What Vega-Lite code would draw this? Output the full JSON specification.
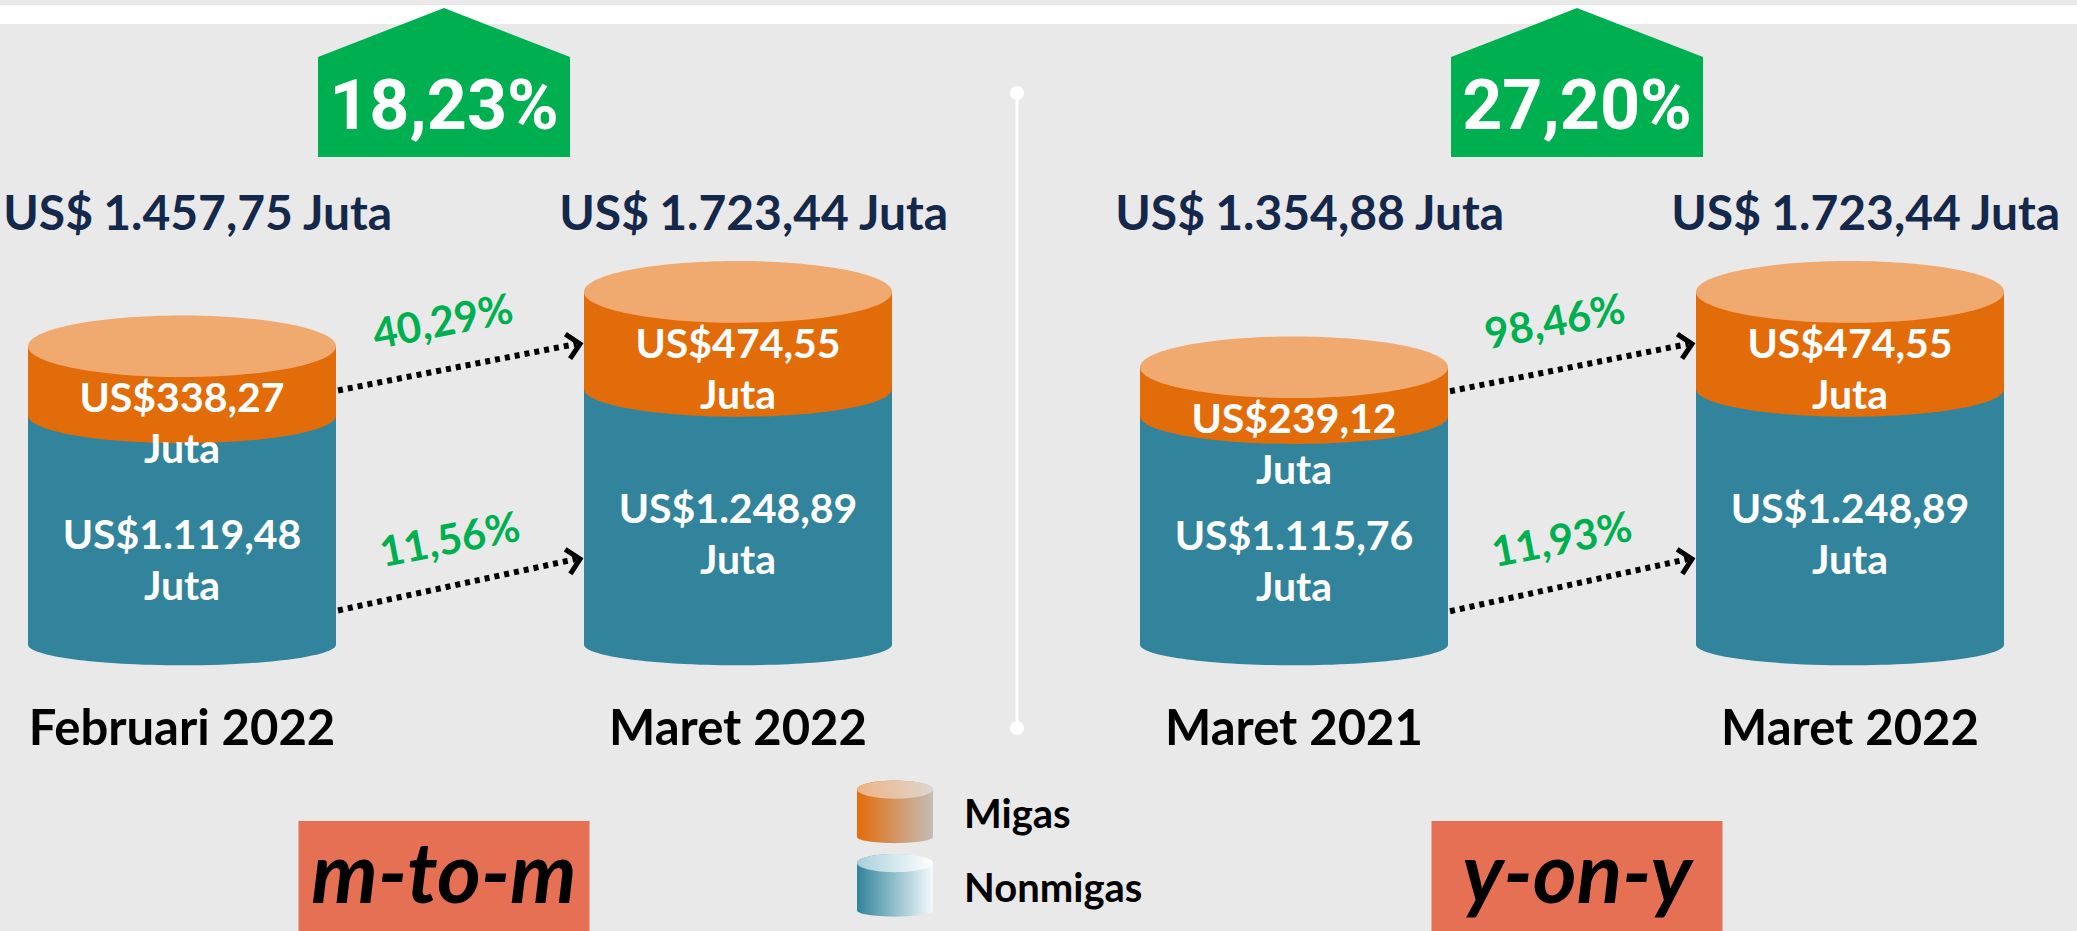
{
  "$schema": "https://vega.github.io/schema/vega-lite/v6.json",
  "width": 2077,
  "height": 931,
  "autosize": {"type": "fit", "contains": "padding"},
  "padding": 0,
  "background": "#e9e9e9",
  "config": {
    "view": {"stroke": null},
    "locale": {"number": {"decimal": ",", "thousands": ".", "grouping": [3], "currency": ["US$", ""]}}
  },
  "datasets": {
    "periode": [
      {"perbandingan": "m-to-m", "kolom": "m-to-m: Februari 2022", "periode": "Februari 2022", "migas": 338.27, "nonmigas": 1119.48, "total": 1457.75},
      {"perbandingan": "m-to-m", "kolom": "m-to-m: Maret 2022", "periode": "Maret 2022", "migas": 474.55, "nonmigas": 1248.89, "total": 1723.44},
      {"perbandingan": "y-on-y", "kolom": "y-on-y: Maret 2021", "periode": "Maret 2021", "migas": 239.12, "nonmigas": 1115.76, "total": 1354.88},
      {"perbandingan": "y-on-y", "kolom": "y-on-y: Maret 2022", "periode": "Maret 2022", "migas": 474.55, "nonmigas": 1248.89, "total": 1723.44}
    ],
    "pertumbuhan": [
      {"kategori": "Migas", "dari": "m-to-m: Februari 2022", "ke": "m-to-m: Maret 2022", "pertumbuhan": 0.4029},
      {"kategori": "Nonmigas", "dari": "m-to-m: Februari 2022", "ke": "m-to-m: Maret 2022", "pertumbuhan": 0.1156},
      {"kategori": "Migas", "dari": "y-on-y: Maret 2021", "ke": "y-on-y: Maret 2022", "pertumbuhan": 0.9846},
      {"kategori": "Nonmigas", "dari": "y-on-y: Maret 2021", "ke": "y-on-y: Maret 2022", "pertumbuhan": 0.1193}
    ],
    "ringkasan": [
      {"perbandingan": "m-to-m", "pertumbuhan": 0.1823},
      {"perbandingan": "y-on-y", "pertumbuhan": 0.2720}
    ],
    "legenda": [{"kategori": "Migas"}, {"kategori": "Nonmigas"}],
    "dekorasi": [{"hiasan": "garis"}]
  },
  "resolve": {"scale": {"x": "independent", "y": "independent"}},
  "layer": [
    {
      "data": {"name": "dekorasi"},
      "mark": {"type": "rect", "color": "#ffffff"},
      "encoding": {
        "y": {"datum": 3125.6, "type": "quantitative", "scale": {"domain": [-1400, 3150], "nice": false, "zero": false}, "axis": null},
        "y2": {"datum": 3032.7}
      }
    },
    {
      "data": {"name": "dekorasi"},
      "layer": [
        {
          "mark": {"type": "rule", "color": "#ffffff", "strokeWidth": 3, "xOffset": -21.5},
          "encoding": {
            "y": {"datum": 2695.4, "type": "quantitative", "scale": {"domain": [-1400, 3150], "nice": false, "zero": false}, "axis": null},
            "y2": {"datum": -407.9}
          }
        },
        {
          "mark": {"type": "point", "filled": true, "color": "#ffffff", "opacity": 1, "size": 200, "xOffset": -21.5},
          "encoding": {"y": {"datum": 2695.4, "type": "quantitative", "scale": {"domain": [-1400, 3150], "nice": false, "zero": false}, "axis": null}}
        },
        {
          "mark": {"type": "point", "filled": true, "color": "#ffffff", "opacity": 1, "size": 200, "xOffset": -21.5},
          "encoding": {"y": {"datum": -407.9, "type": "quantitative", "scale": {"domain": [-1400, 3150], "nice": false, "zero": false}, "axis": null}}
        }
      ]
    },
    {
      "data": {"name": "ringkasan"},
      "encoding": {"x": {"field": "perbandingan", "type": "nominal", "scale": {"type": "point", "domain": ["m-to-m", "y-on-y"], "range": [444, 1577], "padding": 0}, "axis": null}},
      "layer": [
        {
          "mark": {"type": "point", "shape": "M 0 -0.591 L 1 -0.202 L 1 0.591 L -1 0.591 L -1 -0.202 Z", "size": 63504, "filled": true, "color": "#00b050", "opacity": 1, "strokeWidth": 0},
          "encoding": {"y": {"datum": 2746.6, "type": "quantitative", "scale": {"domain": [-1400, 3150], "nice": false, "zero": false}, "axis": null}}
        },
        {
          "mark": {"type": "text", "font": "Roboto", "fontWeight": "bold", "fontSize": 70, "color": "#ffffff", "align": "center", "baseline": "alphabetic"},
          "encoding": {
            "y": {"datum": 2520, "type": "quantitative", "scale": {"domain": [-1400, 3150], "nice": false, "zero": false}, "axis": null},
            "text": {"field": "pertumbuhan", "type": "quantitative", "format": ".2%"}
          }
        },
        {
          "mark": {"type": "bar", "width": 291, "color": "#e67054"},
          "encoding": {
            "y": {"datum": -862.6, "type": "quantitative", "scale": {"domain": [-1400, 3150], "nice": false, "zero": false}, "axis": null},
            "y2": {"datum": -1400}
          }
        },
        {
          "mark": {"type": "text", "font": "Lato", "fontWeight": "bold", "fontStyle": "italic", "fontSize": 84, "color": "#000000", "align": "center", "baseline": "alphabetic"},
          "encoding": {
            "y": {"datum": -1263.1, "type": "quantitative", "scale": {"domain": [-1400, 3150], "nice": false, "zero": false}, "axis": null},
            "text": {"field": "perbandingan", "type": "nominal"}
          }
        }
      ]
    },
    {
      "data": {"name": "periode"},
      "encoding": {"x": {"field": "kolom", "type": "nominal", "scale": {"type": "point", "domain": ["m-to-m: Februari 2022", "m-to-m: Maret 2022", "y-on-y: Maret 2021", "y-on-y: Maret 2022"], "range": [182, 1850], "padding": 0}, "axis": null}},
      "layer": [
        {
          "mark": {"type": "bar", "width": 308, "color": "#31849b"},
          "encoding": {
            "y": {"field": "nonmigas", "type": "quantitative", "scale": {"domain": [-1400, 3150], "nice": false, "zero": false}, "axis": null},
            "y2": {"datum": 0}
          }
        },
        {
          "mark": {"type": "point", "shape": "M -1 0 A 1 0.135 0 1 1 1 0 A 1 0.135 0 1 1 -1 0 Z", "size": 94864, "filled": true, "color": "#31849b", "opacity": 1, "strokeWidth": 0},
          "encoding": {"y": {"datum": 0, "type": "quantitative", "scale": {"domain": [-1400, 3150], "nice": false, "zero": false}, "axis": null}}
        },
        {
          "mark": {"type": "bar", "width": 308, "color": "#e36c0a"},
          "encoding": {
            "y": {"field": "total", "type": "quantitative", "scale": {"domain": [-1400, 3150], "nice": false, "zero": false}, "axis": null},
            "y2": {"field": "nonmigas"}
          }
        },
        {
          "mark": {"type": "point", "shape": "M -1 0 A 1 0.18 0 1 1 1 0 A 1 0.18 0 1 1 -1 0 Z", "size": 94864, "filled": true, "color": "#e36c0a", "opacity": 1, "strokeWidth": 0},
          "encoding": {"y": {"field": "nonmigas", "type": "quantitative", "scale": {"domain": [-1400, 3150], "nice": false, "zero": false}, "axis": null}}
        },
        {
          "mark": {"type": "point", "shape": "M -1 0 A 1 0.2 0 1 1 1 0 A 1 0.2 0 1 1 -1 0 Z", "size": 94864, "filled": true, "color": "#f0a96e", "opacity": 1, "strokeWidth": 0},
          "encoding": {"y": {"field": "total", "type": "quantitative", "scale": {"domain": [-1400, 3150], "nice": false, "zero": false}, "axis": null}}
        },
        {
          "mark": {"type": "text", "font": "Lato", "fontWeight": "bold", "fontSize": 41, "color": "#ffffff", "align": "center", "baseline": "alphabetic", "dy": 66},
          "encoding": {
            "y": {"field": "total", "type": "quantitative", "scale": {"domain": [-1400, 3150], "nice": false, "zero": false}, "axis": null},
            "text": {"field": "migas", "type": "quantitative", "format": "$,.2f"}
          }
        },
        {
          "mark": {"type": "text", "text": "Juta", "font": "Lato", "fontWeight": "bold", "fontSize": 41, "color": "#ffffff", "align": "center", "baseline": "alphabetic", "dy": 117},
          "encoding": {"y": {"field": "total", "type": "quantitative", "scale": {"domain": [-1400, 3150], "nice": false, "zero": false}, "axis": null}}
        },
        {
          "mark": {"type": "text", "font": "Lato", "fontWeight": "bold", "fontSize": 41, "color": "#ffffff", "align": "center", "baseline": "alphabetic", "dy": 134},
          "encoding": {
            "y": {"field": "nonmigas", "type": "quantitative", "scale": {"domain": [-1400, 3150], "nice": false, "zero": false}, "axis": null},
            "text": {"field": "nonmigas", "type": "quantitative", "format": "$,.2f"}
          }
        },
        {
          "mark": {"type": "text", "text": "Juta", "font": "Lato", "fontWeight": "bold", "fontSize": 41, "color": "#ffffff", "align": "center", "baseline": "alphabetic", "dy": 185},
          "encoding": {"y": {"field": "nonmigas", "type": "quantitative", "scale": {"domain": [-1400, 3150], "nice": false, "zero": false}, "axis": null}}
        },
        {
          "mark": {"type": "text", "font": "Lato", "fontWeight": "bold", "fontSize": 48, "color": "#14284b", "align": "center", "baseline": "alphabetic", "dx": 16},
          "encoding": {
            "y": {"datum": 2025.9, "type": "quantitative", "scale": {"domain": [-1400, 3150], "nice": false, "zero": false}, "axis": null},
            "text": {"field": "total", "type": "quantitative", "format": ",.2f"}
          }
        },
        {
          "mark": {"type": "text", "text": "US$", "font": "Lato", "fontWeight": "bold", "fontSize": 48, "color": "#14284b", "align": "right", "baseline": "alphabetic", "dx": -89},
          "encoding": {"y": {"datum": 2025.9, "type": "quantitative", "scale": {"domain": [-1400, 3150], "nice": false, "zero": false}, "axis": null}}
        },
        {
          "mark": {"type": "text", "text": "Juta", "font": "Lato", "fontWeight": "bold", "fontSize": 48, "color": "#14284b", "align": "left", "baseline": "alphabetic", "dx": 121},
          "encoding": {"y": {"datum": 2025.9, "type": "quantitative", "scale": {"domain": [-1400, 3150], "nice": false, "zero": false}, "axis": null}}
        },
        {
          "mark": {"type": "text", "font": "Lato", "fontWeight": "bold", "fontSize": 49, "color": "#000000", "align": "center", "baseline": "alphabetic"},
          "encoding": {
            "y": {"datum": -491, "type": "quantitative", "scale": {"domain": [-1400, 3150], "nice": false, "zero": false}, "axis": null},
            "text": {"field": "periode", "type": "nominal"}
          }
        }
      ]
    },
    {
      "data": {"name": "pertumbuhan"},
      "transform": [
        {"lookup": "dari", "from": {"data": {"name": "periode"}, "key": "kolom", "fields": ["nonmigas"]}, "as": ["batas_dari"]},
        {"lookup": "ke", "from": {"data": {"name": "periode"}, "key": "kolom", "fields": ["nonmigas"]}, "as": ["batas_ke"]},
        {"filter": {"field": "kategori", "equal": "Migas"}}
      ],
      "layer": [
        {
          "mark": {"type": "rule", "color": "#000000", "strokeWidth": 6, "strokeDash": [5, 5], "xOffset": 156, "x2Offset": -162, "yOffset": -25, "y2Offset": -45},
          "encoding": {
            "x": {"field": "dari", "type": "nominal", "scale": {"type": "point", "domain": ["m-to-m: Februari 2022", "m-to-m: Maret 2022", "y-on-y: Maret 2021", "y-on-y: Maret 2022"], "range": [182, 1850], "padding": 0}, "axis": null},
            "x2": {"field": "ke"},
            "y": {"field": "batas_dari", "type": "quantitative", "scale": {"domain": [-1400, 3150], "nice": false, "zero": false}, "axis": null},
            "y2": {"field": "batas_ke"}
          }
        },
        {
          "mark": {"type": "point", "shape": "M -1 -1 L 0 0 L -1 1", "filled": false, "color": "#000000", "strokeWidth": 5, "size": 625, "angle": -11, "opacity": 1, "xOffset": -158, "yOffset": -45},
          "encoding": {
            "x": {"field": "ke", "type": "nominal", "scale": {"type": "point", "domain": ["m-to-m: Februari 2022", "m-to-m: Maret 2022", "y-on-y: Maret 2021", "y-on-y: Maret 2022"], "range": [182, 1850], "padding": 0}, "axis": null},
            "y": {"field": "batas_ke", "type": "quantitative", "scale": {"domain": [-1400, 3150], "nice": false, "zero": false}, "axis": null}
          }
        },
        {
          "mark": {"type": "text", "font": "Lato", "fontWeight": "bold", "fontSize": 42, "color": "#00b050", "angle": -11, "align": "center", "baseline": "middle", "xOffset": -295, "yOffset": -66},
          "encoding": {
            "x": {"field": "ke", "type": "nominal", "scale": {"type": "point", "domain": ["m-to-m: Februari 2022", "m-to-m: Maret 2022", "y-on-y: Maret 2021", "y-on-y: Maret 2022"], "range": [182, 1850], "padding": 0}, "axis": null},
            "y": {"field": "batas_ke", "type": "quantitative", "scale": {"domain": [-1400, 3150], "nice": false, "zero": false}, "axis": null},
            "text": {"field": "pertumbuhan", "type": "quantitative", "format": ".2%"}
          }
        }
      ]
    },
    {
      "data": {"name": "pertumbuhan"},
      "transform": [
        {"lookup": "dari", "from": {"data": {"name": "periode"}, "key": "kolom", "fields": ["nonmigas"]}, "as": ["batas_dari"]},
        {"lookup": "ke", "from": {"data": {"name": "periode"}, "key": "kolom", "fields": ["nonmigas"]}, "as": ["batas_ke"]},
        {"filter": {"field": "kategori", "equal": "Nonmigas"}}
      ],
      "layer": [
        {
          "mark": {"type": "rule", "color": "#000000", "strokeWidth": 6, "strokeDash": [5, 5], "xOffset": 156, "x2Offset": -162, "yOffset": 195, "y2Offset": 170},
          "encoding": {
            "x": {"field": "dari", "type": "nominal", "scale": {"type": "point", "domain": ["m-to-m: Februari 2022", "m-to-m: Maret 2022", "y-on-y: Maret 2021", "y-on-y: Maret 2022"], "range": [182, 1850], "padding": 0}, "axis": null},
            "x2": {"field": "ke"},
            "y": {"field": "batas_dari", "type": "quantitative", "scale": {"domain": [-1400, 3150], "nice": false, "zero": false}, "axis": null},
            "y2": {"field": "batas_ke"}
          }
        },
        {
          "mark": {"type": "point", "shape": "M -1 -1 L 0 0 L -1 1", "filled": false, "color": "#000000", "strokeWidth": 5, "size": 625, "angle": -12, "opacity": 1, "xOffset": -158, "yOffset": 170},
          "encoding": {
            "x": {"field": "ke", "type": "nominal", "scale": {"type": "point", "domain": ["m-to-m: Februari 2022", "m-to-m: Maret 2022", "y-on-y: Maret 2021", "y-on-y: Maret 2022"], "range": [182, 1850], "padding": 0}, "axis": null},
            "y": {"field": "batas_ke", "type": "quantitative", "scale": {"domain": [-1400, 3150], "nice": false, "zero": false}, "axis": null}
          }
        },
        {
          "mark": {"type": "text", "font": "Lato", "fontWeight": "bold", "fontSize": 42, "color": "#00b050", "angle": -11, "align": "center", "baseline": "middle", "xOffset": -288, "yOffset": 152},
          "encoding": {
            "x": {"field": "ke", "type": "nominal", "scale": {"type": "point", "domain": ["m-to-m: Februari 2022", "m-to-m: Maret 2022", "y-on-y: Maret 2021", "y-on-y: Maret 2022"], "range": [182, 1850], "padding": 0}, "axis": null},
            "y": {"field": "batas_ke", "type": "quantitative", "scale": {"domain": [-1400, 3150], "nice": false, "zero": false}, "axis": null},
            "text": {"field": "pertumbuhan", "type": "quantitative", "format": ".2%"}
          }
        }
      ]
    },
    {
      "data": {"name": "legenda"},
      "encoding": {"y": {"field": "kategori", "type": "nominal", "scale": {"type": "point", "domain": ["Migas", "Nonmigas"], "range": [812, 885.5], "padding": 0}, "axis": null}},
      "layer": [
        {
          "transform": [{"filter": {"field": "kategori", "equal": "Migas"}}],
          "mark": {"type": "point", "shape": "M -1 -0.59 A 1 0.24 0 0 1 1 -0.59 L 1 0.66 A 1 0.16 0 0 1 -1 0.66 Z", "size": 5776, "filled": true, "opacity": 1, "strokeWidth": 0, "xOffset": -143.5,
            "color": {"gradient": "linear", "x1": 0, "x2": 1, "y1": 0, "y2": 0, "stops": [{"offset": 0, "color": "#e36c0a"}, {"offset": 1, "color": "#c4bdb7"}]}}
        },
        {
          "transform": [{"filter": {"field": "kategori", "equal": "Migas"}}],
          "mark": {"type": "point", "shape": "M -1 -0.59 A 1 0.24 0 1 1 1 -0.59 A 1 0.24 0 1 1 -1 -0.59 Z", "size": 5776, "filled": true, "opacity": 1, "strokeWidth": 0, "xOffset": -143.5,
            "color": {"gradient": "linear", "x1": 0, "x2": 1, "y1": 0, "y2": 0, "stops": [{"offset": 0, "color": "#efb383"}, {"offset": 1, "color": "#ddd6cf"}]}}
        },
        {
          "transform": [{"filter": {"field": "kategori", "equal": "Nonmigas"}}],
          "mark": {"type": "point", "shape": "M -1 -0.59 A 1 0.24 0 0 1 1 -0.59 L 1 0.66 A 1 0.16 0 0 1 -1 0.66 Z", "size": 5776, "filled": true, "opacity": 1, "strokeWidth": 0, "xOffset": -143.5,
            "color": {"gradient": "linear", "x1": 0, "x2": 1, "y1": 0, "y2": 0, "stops": [{"offset": 0, "color": "#31849b"}, {"offset": 1, "color": "#f4fafc"}]}}
        },
        {
          "transform": [{"filter": {"field": "kategori", "equal": "Nonmigas"}}],
          "mark": {"type": "point", "shape": "M -1 -0.59 A 1 0.24 0 1 1 1 -0.59 A 1 0.24 0 1 1 -1 -0.59 Z", "size": 5776, "filled": true, "opacity": 1, "strokeWidth": 0, "xOffset": -143.5,
            "color": {"gradient": "linear", "x1": 0, "x2": 1, "y1": 0, "y2": 0, "stops": [{"offset": 0, "color": "#a8d0dc"}, {"offset": 1, "color": "#ffffff"}]}}
        },
        {
          "mark": {"type": "text", "font": "Lato", "fontWeight": "bold", "fontSize": 40, "color": "#000000", "align": "left", "baseline": "alphabetic", "xOffset": -74.5, "dy": 16},
          "encoding": {"text": {"field": "kategori", "type": "nominal"}}
        }
      ]
    }
  ]
}
